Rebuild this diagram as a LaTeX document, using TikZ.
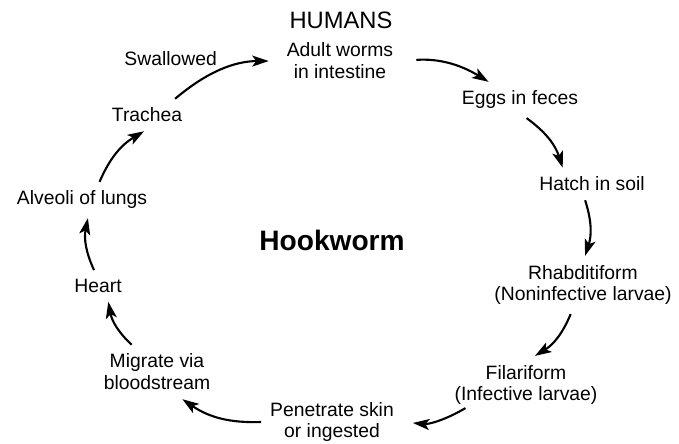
\documentclass[tikz,border=0pt]{standalone}
\usepackage{fontspec}
\setmainfont{Liberation Sans}
\usetikzlibrary{arrows.meta,positioning,calc}
\tikzset{
  stage/.style={align=center,font=\fontsize{11}{12.5}\selectfont,inner sep=5pt},
  ttl/.style={font=\fontsize{13.5}{15}\selectfont,inner sep=2pt},
  ctr/.style={font=\fontsize{16}{18}\selectfont\bfseries,inner sep=2pt},
  ar/.style={-{Stealth[length=3.3mm,width=2.2mm,inset=0.8mm]},line width=1.2pt,bend left=18},
  lbl/.style={font=\fontsize{11}{12.5}\selectfont,inner sep=2pt}
}
\begin{document}
\begin{tikzpicture}
  \useasboundingbox (0,0) rectangle (13.58,8.86);
  % host label and stages, clockwise from the top
  \node[ttl] (humans) at (6.82,8.46) {HUMANS};
  \node[stage] (adult) at (6.80,7.64) {Adult worms\\in intestine};
  \node[stage] (eggs) at (10.40,6.86) {Eggs in feces};
  \node[stage] (hatch) at (11.84,5.18) {Hatch in soil};
  \node[stage] (rhabd) at (11.66,3.16) {Rhabditiform\\(Noninfective larvae)};
  \node[stage] (filar) at (10.52,1.16) {Filariform\\(Infective larvae)};
  \node[stage] (pen) at (6.64,0.42) {Penetrate skin\\or ingested};
  \node[stage] (migr) at (3.14,1.42) {Migrate via\\bloodstream};
  \node[stage] (heart) at (1.96,3.14) {Heart};
  \node[stage] (alv) at (1.64,4.86) {Alveoli of lungs};
  \node[stage] (trach) at (2.94,6.56) {Trachea};
  \node[ctr] (hook) at (6.64,4.06) {Hookworm};
  % cycle arrows
  \draw[ar,shorten <=0.28cm] (adult.east) to (eggs.150);
  \draw[ar] (eggs.-70) to (hatch.151);
  \draw[ar] (hatch.-113) to (rhabd.86);
  \draw[ar] (rhabd.-113) to (filar.73);
  \draw[ar,shorten >=0.2cm] ($(filar.south west)+(0.4,0.12)$) to (pen.east);
  \draw[ar] (pen.west) to (migr.-47);
  \draw[ar] (migr.133) to (heart.-57);
  \draw[ar] (heart.104) to (alv.-72);
  \draw[ar] (alv.46) to (trach.-100);
  \draw[ar,bend left=20,shorten >=0.18cm] (trach.30) to node[lbl,pos=0.12,xshift=-0.32cm,yshift=0.62cm] (swal) {Swallowed} (adult.west);
\end{tikzpicture}
\end{document}
